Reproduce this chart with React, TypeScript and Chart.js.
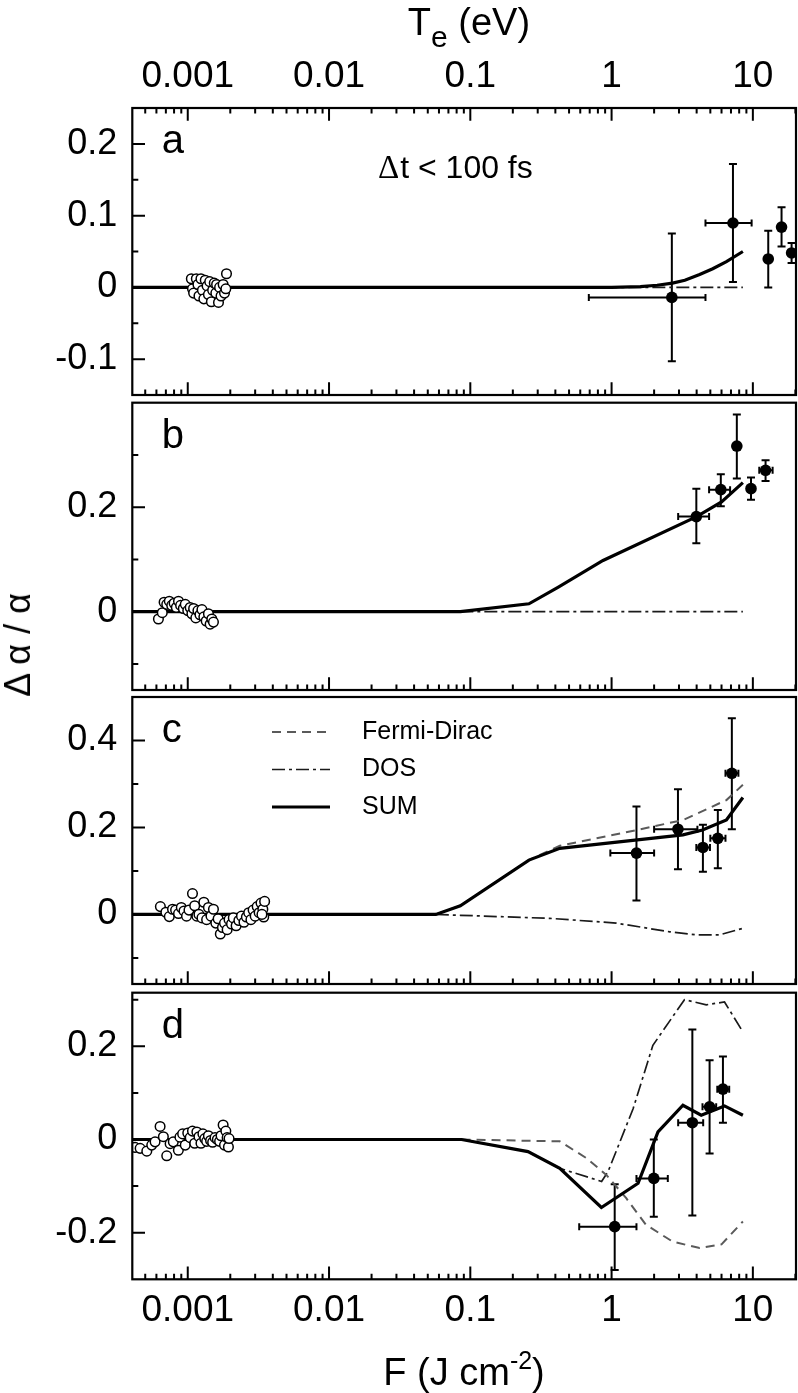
import React, { useEffect, useRef } from 'react';
import { Chart, registerables } from 'chart.js';
Chart.register(...registerables);

const FONT = '"Liberation Sans", Arial, Helvetica, sans-serif';
const X_MIN = 4.05e-4;
const X_MAX = 20.2;
const decadeTicks = [0.001, 0.01, 0.1, 1, 10];
const decadeLabels = ['0.001', '0.01', '0.1', '1', '10'];
const legendLabels = ['Fermi-Dirac', 'DOS', 'SUM'];

// ---------- panel a ----------
const aOpenF = [0.00106, 0.00108, 0.0011, 0.00115, 0.00118, 0.0012, 0.00124, 0.00127, 0.0013, 0.00133, 0.00137, 0.0014, 0.00143, 0.00147, 0.0015, 0.00154, 0.00158, 0.0016, 0.00165, 0.00168, 0.00172, 0.00178, 0.00182, 0.00186, 0.00188];
const aOpenV = [0.012, -0.002, -0.008, 0.012, 0.004, -0.012, 0.012, -0.004, -0.016, 0.010, 0.002, -0.010, 0.008, -0.020, -0.004, 0.006, -0.008, 0.004, -0.021, 0.000, -0.012, 0.004, -0.008, -0.002, 0.019];
const aSumF = [4.05e-4, 0.5, 1.0, 1.6, 2.1, 2.7, 3.3, 4.2, 5.2, 6.5, 8.5];
const aSumV = [0, 0, 0, 0.001, 0.003, 0.006, 0.010, 0.018, 0.026, 0.036, 0.050];
const aDosF = [0.085, 8.5];
const aDosV = [0, 0];
const aPtF = [2.67, 7.23, 12.85, 15.96, 18.8];
const aPtV = [-0.014, 0.0897, 0.0396, 0.084, 0.048];
const aPtVLo = [-0.103, 0.0075, 0.0, 0.057, 0.034];
const aPtVHi = [0.075, 0.172, 0.079, 0.1115, 0.062];
const aPtFLo = [0.69, 4.62, null, null, null];
const aPtFHi = [4.62, 9.8, null, null, null];

// ---------- panel b ----------
const bOpenF = [0.00062, 0.00066, 0.00068, 0.00071, 0.00074, 0.00077, 0.0008, 0.00083, 0.00086, 0.00089, 0.00093, 0.00096, 0.001, 0.00104, 0.00107, 0.0011, 0.00114, 0.00118, 0.00122, 0.00126, 0.0013, 0.00135, 0.0014, 0.00144, 0.00148, 0.00152];
const bOpenV = [-0.014, -0.002, 0.018, 0.014, 0.02, 0.012, 0.016, 0.008, 0.02, 0.012, 0.006, 0.014, 0.002, 0.008, -0.004, 0.006, -0.012, 0.002, -0.006, 0.004, -0.01, -0.018, -0.004, -0.024, -0.014, -0.02];
const bSumF = [4.05e-4, 0.085, 0.26, 0.42, 0.87, 4.0, 6.0, 8.5];
const bSumV = [0, 0, 0.015, 0.047, 0.098, 0.182, 0.21, 0.247];
const bDosF = [0.085, 8.5];
const bDosV = [0, 0];
const bPtF = [3.98, 5.93, 7.7, 9.7, 12.3];
const bPtV = [0.182, 0.2335, 0.317, 0.2355, 0.2706];
const bPtVLo = [0.131, 0.202, 0.2547, 0.2144, 0.25];
const bPtVHi = [0.2355, 0.263, 0.3775, 0.2566, 0.29];
const bPtFLo = [2.96, 4.9, null, null, 11.1];
const bPtFHi = [4.9, 6.9, null, null, 13.8];

// ---------- panel c ----------
const cOpenF = [0.00064, 0.0007, 0.00074, 0.00078, 0.00082, 0.00086, 0.0009, 0.00094, 0.00098, 0.00102, 0.00108, 0.00112, 0.00116, 0.0012, 0.00126, 0.0013, 0.00136, 0.0014, 0.00146, 0.00152, 0.00158, 0.00164, 0.0017, 0.00176, 0.00182, 0.0019, 0.00196, 0.00204, 0.0021, 0.0022, 0.0023, 0.0024, 0.0025, 0.0026, 0.0027, 0.0028, 0.0029, 0.003, 0.0031, 0.0032, 0.0033, 0.0034, 0.0035, 0.00345, 0.00335];
const cOpenV = [0.018, 0.005, -0.005, 0.012, 0.01, 0.002, 0.016, 0.008, -0.004, 0.01, 0.048, 0.02, -0.004, 0.0, -0.008, 0.028, -0.012, 0.016, -0.004, 0.012, -0.02, -0.01, -0.045, -0.03, -0.02, -0.035, -0.012, -0.022, -0.008, -0.026, -0.014, -0.004, -0.018, -0.006, 0.004, -0.012, 0.01, -0.004, 0.018, 0.004, 0.026, 0.012, 0.03, -0.006, 0.0];
const cSumF = [4.05e-4, 0.057, 0.085, 0.26, 0.43, 3.2, 4.4, 6.5, 8.5];
const cSumV = [0, 0, 0.02, 0.125, 0.152, 0.183, 0.194, 0.217, 0.269];
const cFdF = [0.057, 0.085, 0.26, 0.43, 1.5, 3.2, 6.5, 8.5];
const cFdV = [0, 0.02, 0.125, 0.158, 0.194, 0.217, 0.263, 0.298];
const cDosF = [0.057, 0.085, 0.365, 1.08, 2.58, 4.0, 5.8, 8.5];
const cDosV = [0, -0.002, -0.009, -0.02, -0.04, -0.047, -0.047, -0.032];
const cPtF = [1.5, 2.95, 4.43, 5.65, 7.1];
const cPtV = [0.141, 0.196, 0.154, 0.175, 0.3245];
const cPtVLo = [0.032, 0.104, 0.098, 0.106, 0.196];
const cPtVHi = [0.248, 0.288, 0.206, 0.24, 0.451];
const cPtFLo = [0.98, 2.0, 3.98, 5.0, 6.4];
const cPtFHi = [2.0, 4.05, 4.97, 6.4, 7.9];

// ---------- panel d ----------
const dOpenF = [0.000424, 0.00046, 0.000513, 0.000556, 0.000587, 0.000637, 0.000672, 0.00071, 0.00075, 0.00079, 0.000858, 0.00088, 0.00092, 0.00096, 0.001, 0.00104, 0.00108, 0.00112, 0.00116, 0.0012, 0.00124, 0.00128, 0.00132, 0.00136, 0.0014, 0.00145, 0.0015, 0.00156, 0.00162, 0.00168, 0.00172, 0.00178, 0.00182, 0.00186, 0.0019, 0.00194, 0.00196];
const dOpenV = [-0.017, -0.019, -0.025, -0.012, -0.005, 0.028, 0.006, -0.035, -0.009, -0.005, -0.023, 0.005, 0.012, -0.012, 0.014, 0.004, 0.018, -0.008, 0.016, 0.006, -0.008, 0.012, 0.002, -0.004, 0.008, -0.002, -0.006, 0.004, 0.0, -0.004, 0.008, 0.031, -0.012, 0.018, 0.004, -0.016, 0.002];
const dSumF = [4.05e-4, 0.0867, 0.256, 0.43, 0.847, 1.54, 2.13, 3.2, 4.31, 6.3, 8.5];
const dSumV = [0, 0, -0.026, -0.062, -0.146, -0.094, 0.0165, 0.0735, 0.052, 0.072, 0.052];
const dFdF = [0.0867, 0.43, 0.664, 0.918, 1.27, 1.75, 2.7, 4.2, 6.0, 8.5];
const dFdV = [0, -0.004, -0.04, -0.076, -0.126, -0.183, -0.219, -0.233, -0.225, -0.176];
const dDosF = [0.0867, 0.256, 0.43, 0.85, 0.944, 1.42, 1.96, 3.28, 4.68, 6.3, 8.5];
const dDosV = [0, -0.026, -0.062, -0.09, -0.069, 0.066, 0.202, 0.3, 0.289, 0.295, 0.231];
const dPtF = [1.052, 1.99, 3.73, 4.94, 6.14];
const dPtV = [-0.187, -0.0835, 0.036, 0.07, 0.108];
const dPtVLo = [-0.28, -0.166, -0.163, -0.03, 0.036];
const dPtVHi = [-0.096, 0.0, 0.236, 0.17, 0.178];
const dPtFLo = [0.59, 1.5, 2.96, 4.4, 5.6];
const dPtFHi = [1.5, 2.5, 4.45, 5.5, 6.8];

type Num = number | null;
interface Panel {
  top: number; height: number; padTop: number; padBottom: number;
  xAxis: 'top' | 'bottom' | 'none'; xAxisHeight: number;
  yMin: number; yMax: number; yMajor: number[]; yMinor: number[];
  letter: string;
  openF: number[]; openV: number[];
  sumF: number[]; sumV: number[];
  fdF?: number[]; fdV?: number[];
  dosF: number[]; dosV: number[];
  ptF: number[]; ptV: number[]; ptVLo: Num[]; ptVHi: Num[]; ptFLo: Num[]; ptFHi: Num[];
  legend?: boolean; note?: boolean;
}

const panels: Panel[] = [
  { top: 0, height: 398, padTop: 0, padBottom: 3, xAxis: 'top', xAxisHeight: 108,
    yMin: -0.15, yMax: 0.25, yMajor: [-0.1, 0, 0.1, 0.2], yMinor: [-0.05, 0.05, 0.15], letter: 'a',
    openF: aOpenF, openV: aOpenV, sumF: aSumF, sumV: aSumV, dosF: aDosF, dosV: aDosV,
    ptF: aPtF, ptV: aPtV, ptVLo: aPtVLo, ptVHi: aPtVHi, ptFLo: aPtFLo, ptFHi: aPtFHi, note: true },
  { top: 398, height: 295, padTop: 4.7, padBottom: 3, xAxis: 'none', xAxisHeight: 0,
    yMin: -0.15, yMax: 0.4, yMajor: [0, 0.2], yMinor: [-0.1, 0.1, 0.3], letter: 'b',
    openF: bOpenF, openV: bOpenV, sumF: bSumF, sumV: bSumV, dosF: bDosF, dosV: bDosV,
    ptF: bPtF, ptV: bPtV, ptVLo: bPtVLo, ptVHi: bPtVHi, ptFLo: bPtFLo, ptFHi: bPtFHi },
  { top: 693, height: 295, padTop: 4, padBottom: 4, xAxis: 'none', xAxisHeight: 0,
    yMin: -0.16, yMax: 0.5, yMajor: [0, 0.2, 0.4], yMinor: [-0.1, 0.1, 0.3], letter: 'c',
    openF: cOpenF, openV: cOpenV, sumF: cSumF, sumV: cSumV, fdF: cFdF, fdV: cFdV, dosF: cDosF, dosV: cDosV,
    ptF: cPtF, ptV: cPtV, ptVLo: cPtVLo, ptVHi: cPtVHi, ptFLo: cPtFLo, ptFHi: cPtFHi, legend: true },
  { top: 988, height: 405, padTop: 4.7, padBottom: 0, xAxis: 'bottom', xAxisHeight: 113.7,
    yMin: -0.3, yMax: 0.315, yMajor: [-0.2, 0, 0.2], yMinor: [-0.1, 0.1, 0.3], letter: 'd',
    openF: dOpenF, openV: dOpenV, sumF: dSumF, sumV: dSumV, fdF: dFdF, fdV: dFdV, dosF: dDosF, dosV: dDosV,
    ptF: dPtF, ptV: dPtV, ptVLo: dPtVLo, ptVHi: dPtVHi, ptFLo: dPtFLo, ptFHi: dPtFHi },
];

const xy = (f: number[], v: number[]) => f.map((x, i) => ({ x, y: v[i] }));

const SUM_STYLE = { borderColor: '#000', borderWidth: 3.2, borderDash: [] as number[] };
const FD_STYLE = { borderColor: '#5a5a5a', borderWidth: 2, borderDash: [9, 6] };
const DOS_STYLE = { borderColor: '#1a1a1a', borderWidth: 1.7, borderDash: [13, 4, 3, 4] };

function makePlugin(p: Panel) {
  return {
    id: 'panelDecor' + p.letter,
    beforeDatasetsDraw(chart: any) {
      const { ctx, chartArea: ca, scales } = chart;
      const x = scales.x, y = scales.y;
      ctx.save();
      ctx.beginPath();
      ctx.rect(ca.left, ca.top, ca.right - ca.left, ca.bottom - ca.top);
      ctx.clip();
      ctx.strokeStyle = '#000';
      ctx.lineWidth = 2;
      ctx.setLineDash([]);
      for (let i = 0; i < p.ptF.length; i++) {
        const px = x.getPixelForValue(p.ptF[i]);
        const py = y.getPixelForValue(p.ptV[i]);
        const lo = p.ptVLo[i], hi = p.ptVHi[i];
        if (lo != null && hi != null) {
          const y1 = y.getPixelForValue(lo), y2 = y.getPixelForValue(hi);
          ctx.beginPath();
          ctx.moveTo(px, y1); ctx.lineTo(px, y2);
          ctx.moveTo(px - 4, y1); ctx.lineTo(px + 4, y1);
          ctx.moveTo(px - 4, y2); ctx.lineTo(px + 4, y2);
          ctx.stroke();
        }
        const fl = p.ptFLo[i], fh = p.ptFHi[i];
        if (fl != null && fh != null) {
          const x1 = x.getPixelForValue(fl), x2 = x.getPixelForValue(fh);
          ctx.beginPath();
          ctx.moveTo(x1, py); ctx.lineTo(x2, py);
          ctx.moveTo(x1, py - 3.5); ctx.lineTo(x1, py + 3.5);
          ctx.moveTo(x2, py - 3.5); ctx.lineTo(x2, py + 3.5);
          ctx.stroke();
        }
      }
      ctx.restore();
    },
    afterDraw(chart: any) {
      const { ctx, chartArea: ca, scales } = chart;
      const x = scales.x, y = scales.y;
      ctx.save();
      ctx.strokeStyle = '#000';
      ctx.setLineDash([]);
      ctx.lineWidth = 2;
      ctx.lineCap = 'butt';
      ctx.beginPath();
      for (let e = -4; e <= 1; e++) {
        for (let m = 1; m <= 9; m++) {
          const v = m * Math.pow(10, e);
          if (v <= X_MIN || v >= X_MAX) continue;
          const px = x.getPixelForValue(v);
          const len = m === 1 ? 12.7 : 5.5;
          ctx.moveTo(px, ca.bottom); ctx.lineTo(px, ca.bottom - len);
          if (p.xAxis === 'top') { ctx.moveTo(px, ca.top); ctx.lineTo(px, ca.top + len); }
        }
      }
      p.yMajor.forEach((v) => { const py = y.getPixelForValue(v); ctx.moveTo(ca.left, py); ctx.lineTo(ca.left + 12.7, py); });
      p.yMinor.forEach((v) => { const py = y.getPixelForValue(v); ctx.moveTo(ca.left, py); ctx.lineTo(ca.left + 6, py); });
      ctx.stroke();
      ctx.lineWidth = 2.2;
      ctx.strokeRect(ca.left, ca.top, ca.right - ca.left, ca.bottom - ca.top);
      ctx.fillStyle = '#000';
      ctx.textBaseline = 'alphabetic';
      ctx.textAlign = 'left';
      ctx.font = '40px ' + FONT;
      ctx.fillText(p.letter, ca.left + 29.5, ca.top + 45);
      if (p.note) {
        ctx.font = '33px "Liberation Serif", "Times New Roman", serif';
        ctx.fillText('\u0394', 378, ca.top + 70);
        const w = ctx.measureText('\u0394').width;
        ctx.font = '32px ' + FONT;
        ctx.fillText('t < 100 fs', 378 + w + 1, ca.top + 70);
      }
      if (p.legend) {
        const styles = [FD_STYLE, DOS_STYLE, SUM_STYLE];
        const rows = [35, 72.5, 110];
        styles.forEach((s, i) => {
          const ry = ca.top + rows[i];
          ctx.strokeStyle = s.borderColor;
          ctx.lineWidth = s.borderWidth;
          ctx.setLineDash(s.borderDash);
          ctx.beginPath();
          ctx.moveTo(272, ry); ctx.lineTo(330, ry);
          ctx.stroke();
          ctx.setLineDash([]);
          ctx.font = '25px ' + FONT;
          ctx.textBaseline = 'middle';
          ctx.fillStyle = '#000';
          ctx.fillText(legendLabels[i], 362, ry);
        });
      }
      ctx.restore();
    },
  };
}

function buildConfig(p: Panel): any {
  const datasets: any[] = [
    { label: 'data', data: xy(p.ptF, p.ptV), pointRadius: 5.8, pointBackgroundColor: '#000', pointBorderColor: '#000', pointBorderWidth: 0, showLine: false },
    { label: 'low fluence', data: xy(p.openF, p.openV), pointRadius: 4.8, pointBackgroundColor: '#fff', pointBorderColor: '#000', pointBorderWidth: 1.5, showLine: false },
    { label: 'SUM', data: xy(p.sumF, p.sumV), showLine: true, pointRadius: 0, ...SUM_STYLE },
  ];
  if (p.fdF && p.fdV) datasets.push({ label: 'Fermi-Dirac', data: xy(p.fdF, p.fdV), showLine: true, pointRadius: 0, ...FD_STYLE });
  datasets.push({ label: 'DOS', data: xy(p.dosF, p.dosV), showLine: true, pointRadius: 0, ...DOS_STYLE });

  return {
    type: 'scatter',
    data: { datasets },
    options: {
      animation: false,
      responsive: false,
      maintainAspectRatio: false,
      events: [],
      layout: { autoPadding: false, padding: { top: p.padTop, bottom: p.padBottom, left: 0, right: 2 } },
      plugins: { legend: { display: false }, tooltip: { enabled: false } },
      scales: {
        x: {
          type: 'logarithmic', min: X_MIN, max: X_MAX,
          position: p.xAxis === 'top' ? 'top' : 'bottom',
          display: p.xAxis !== 'none',
          grid: { display: false, drawTicks: false },
          border: { display: false },
          afterBuildTicks: (s: any) => { s.ticks = decadeTicks.map((value) => ({ value })); },
          afterFit: (s: any) => { s.height = p.xAxisHeight; s.paddingLeft = 0; s.paddingRight = 0; },
          ticks: {
            autoSkip: false, maxRotation: 0, minRotation: 0, padding: 9, color: '#000',
            font: { family: FONT, size: 37 },
            callback: (value: number) => {
              const i = decadeTicks.findIndex((t) => Math.abs(t - value) / t < 1e-6);
              return i >= 0 ? decadeLabels[i] : '';
            },
          },
        },
        y: {
          type: 'linear', min: p.yMin, max: p.yMax,
          grid: { display: false, drawTicks: false },
          border: { display: false },
          afterBuildTicks: (s: any) => { s.ticks = p.yMajor.map((value) => ({ value })); },
          afterFit: (s: any) => { s.width = 132.3; s.paddingTop = 0; s.paddingBottom = 0; },
          ticks: {
            autoSkip: false, padding: 15, color: '#000',
            font: { family: FONT, size: 36 },
            callback: (v: number) => (Math.abs(v) < 1e-9 ? '0' : (v < 0 ? '-' : '') + Math.abs(v).toFixed(1)),
          },
        },
      },
    },
    plugins: [makePlugin(p)],
  };
}

function PanelChart({ p }: { p: Panel }) {
  const ref = useRef<HTMLCanvasElement>(null);
  useEffect(() => {
    const chart = new Chart(ref.current as HTMLCanvasElement, buildConfig(p));
    return () => chart.destroy();
  }, [p]);
  return (
    <canvas ref={ref} width={798} height={p.height}
      style={{ position: 'absolute', left: 0, top: p.top, width: 798, height: p.height }} />
  );
}

export default function App() {
  const txt: React.CSSProperties = { position: 'absolute', fontFamily: FONT, color: '#000', whiteSpace: 'nowrap', lineHeight: '38px', fontSize: 38 };
  return (
    <div style={{ position: 'absolute', left: 0, top: 0, width: 798, height: 1393, background: '#fff', overflow: 'hidden' }}>
      {panels.map((p) => <PanelChart key={p.letter} p={p} />)}
      <div style={{ ...txt, left: 469, top: 3, transform: 'translateX(-50%)' }}>
        T<span style={{ fontSize: 30, position: 'relative', top: 12 }}>e</span> (eV)
      </div>
      <div style={{ ...txt, left: 464, top: 1353, transform: 'translateX(-50%)' }}>
        F (J cm<span style={{ fontSize: 25, position: 'relative', top: -16 }}>-2</span>)
      </div>
      <div style={{ ...txt, fontSize: 36, left: 18, top: 645, transform: 'translate(-50%, -50%) rotate(-90deg)' }}>
        Δ α / α
      </div>
    </div>
  );
}
